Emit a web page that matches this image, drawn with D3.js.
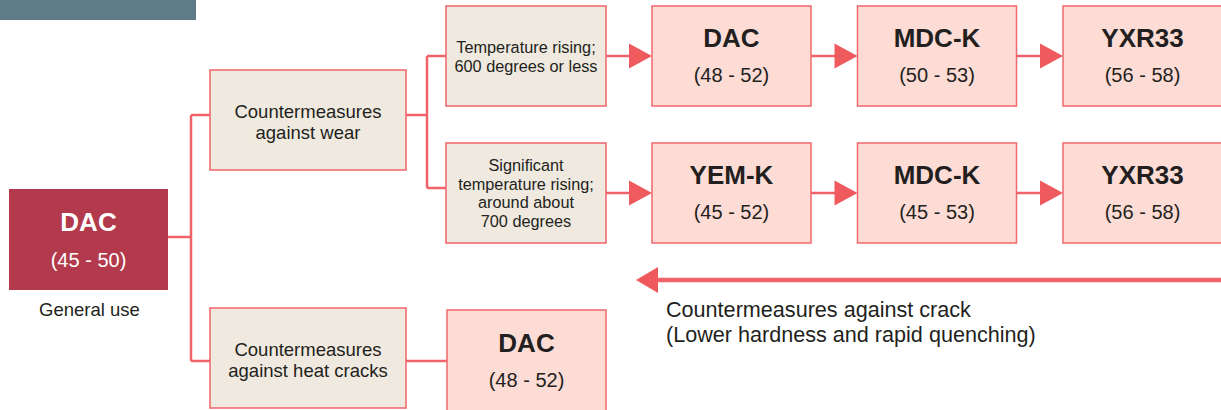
<!DOCTYPE html>
<html>
<head>
<meta charset="utf-8">
<script src="https://cdn.jsdelivr.net/npm/d3@7"></script>
<style>
  body { margin: 0; background: #fff; }
  svg { display: block; font-family: "Liberation Sans", Arial, sans-serif; }
  .line { stroke: #f1636a; stroke-width: 2.5; fill: none; }
  .cond { fill: #efe9df; stroke: #f1636a; stroke-width: 1.5; }
  .prod { fill: #fddcd5; stroke: #f0676c; stroke-width: 1.5; }
  .txt { fill: #231f20; }
</style>
</head>
<body>
<svg width="1221" height="410"></svg>
<script>
// base steel
const baseName = 'DAC';
const baseRange = [45, 50];
const baseNote = 'General use';

// first split
const measures = [
  ['Countermeasures', 'against wear'],
  ['Countermeasures', 'against heat cracks']
];

// wear conditions
const conditions = [
  ['Temperature rising;', '600 degrees or less'],
  ['Significant', 'temperature rising;', 'around about', '700 degrees']
];

// recommended steels per condition row
const rowNames = [
  ['DAC', 'MDC-K', 'YXR33'],
  ['YEM-K', 'MDC-K', 'YXR33']
];
const rowRanges = [
  [[48, 52], [50, 53], [56, 58]],
  [[45, 52], [45, 53], [56, 58]]
];

// heat crack branch
const crackName = 'DAC';
const crackRange = [48, 52];

const crackNote = ['Countermeasures against crack', '(Lower hardness and rapid quenching)'];

const fmtRange = r => `(${r[0]} - ${r[1]})`;

function whenLoaded() {
  const svg = d3.select('svg');

  const x = d3.scaleBand().domain([0, 1, 2]).range([652, 1222]).paddingInner(0.2263);
  const y = d3.scaleBand().domain([0, 1]).range([6, 243]).paddingInner(0.27);

  // header bar
  svg.append('rect').attr('x', 0).attr('y', 0).attr('width', 196).attr('height', 20).attr('fill', '#5f7b88');

  // connectors (drawn first, boxes cover ends)
  const lines = svg.append('g').attr('class', 'line');
  lines.append('path').attr('d', 'M168,237H191M191,115V361M191,115H210M191,361H210');
  lines.append('path').attr('d', 'M406,115H427M427,56V188M427,56H446M427,188H446');
  lines.append('path').attr('d', 'M406,361H447');

  const arrow = (g, x0, x1, yy) => {
    g.append('line').attr('class', 'line').attr('x1', x0).attr('x2', x1 - 20).attr('y1', yy).attr('y2', yy);
    g.append('path').attr('fill', '#ef5a5e')
      .attr('d', `M${x1 - 23},${yy - 12.5}L${x1},${yy}L${x1 - 23},${yy + 12.5}Z`);
  };

  // base box
  svg.append('rect').attr('x', 9).attr('y', 189).attr('width', 159).attr('height', 101).attr('fill', '#b33a4c');
  svg.append('text').attr('x', 88.5).attr('y', 231).attr('text-anchor', 'middle')
    .attr('fill', '#fff').attr('font-weight', 'bold').attr('font-size', 26).text(baseName);
  svg.append('text').attr('x', 88.5).attr('y', 267).attr('text-anchor', 'middle')
    .attr('fill', '#fff').attr('font-size', 20).text(fmtRange(baseRange));
  svg.append('text').attr('class', 'txt').attr('x', 89.5).attr('y', 316).attr('text-anchor', 'middle')
    .attr('font-size', 18.5).text(baseNote);

  // measure boxes
  const mTop = [70, 308];
  const mBase = [118, 356];
  measures.forEach((m, i) => {
    svg.append('rect').attr('class', 'cond').attr('x', 210).attr('y', mTop[i]).attr('width', 196).attr('height', 100);
    const t = svg.append('text').attr('class', 'txt').attr('text-anchor', 'middle').attr('font-size', 18.5);
    m.forEach((s, j) => t.append('tspan').attr('x', 308).attr('y', mBase[i] + j * 21).text(s));
  });

  // condition boxes and rows
  conditions.forEach((c, i) => {
    const top = y(i);
    svg.append('rect').attr('class', 'cond').attr('x', 446).attr('y', top).attr('width', 160).attr('height', y.bandwidth());
    const lh = c.length > 2 ? 18.5 : 19;
    const first = top + 50 - (c.length - 1) * lh / 2 + 6;
    const t = svg.append('text').attr('class', 'txt').attr('text-anchor', 'middle').attr('font-size', 16.3);
    c.forEach((s, j) => t.append('tspan').attr('x', 526).attr('y', first + j * lh).text(s));

    const yy = top + 50;
    arrow(svg, 606, x(0), yy);
    rowNames[i].forEach((n, k) => {
      const bx = x(k);
      if (k > 0) arrow(svg, x(k - 1) + x.bandwidth(), bx, yy);
      svg.append('rect').attr('class', 'prod').attr('x', bx).attr('y', top).attr('width', x.bandwidth()).attr('height', y.bandwidth());
      svg.append('text').attr('class', 'txt').attr('x', bx + x.bandwidth() / 2).attr('y', top + 41)
        .attr('text-anchor', 'middle').attr('font-weight', 'bold').attr('font-size', 26).text(n);
      svg.append('text').attr('class', 'txt').attr('x', bx + x.bandwidth() / 2).attr('y', top + 76)
        .attr('text-anchor', 'middle').attr('font-size', 20).text(fmtRange(rowRanges[i][k]));
    });
  });

  // heat crack product
  svg.append('rect').attr('class', 'prod').attr('x', 447).attr('y', 310).attr('width', 159).attr('height', 102);
  svg.append('text').attr('class', 'txt').attr('x', 526.5).attr('y', 352)
    .attr('text-anchor', 'middle').attr('font-weight', 'bold').attr('font-size', 26).text(crackName);
  svg.append('text').attr('class', 'txt').attr('x', 526.5).attr('y', 387)
    .attr('text-anchor', 'middle').attr('font-size', 20).text(fmtRange(crackRange));

  // long back arrow
  svg.append('line').attr('x1', 655).attr('x2', 1221).attr('y1', 280).attr('y2', 280)
    .attr('stroke', '#f1636a').attr('stroke-width', 4.5);
  svg.append('path').attr('fill', '#ef5a5e').attr('d', 'M658,267L636,280L658,293Z');
  const cap = svg.append('text').attr('class', 'txt').attr('font-size', 21.6);
  crackNote.forEach((s, j) => cap.append('tspan').attr('x', 666).attr('y', 317 + j * 25).text(s));
}

window.onload = whenLoaded;
</script>
</body>
</html>
